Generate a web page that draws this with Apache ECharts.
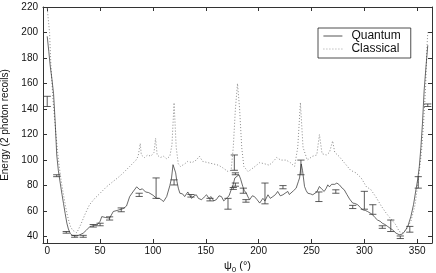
<!DOCTYPE html>
<html>
<head>
<meta charset="utf-8">
<script src="https://cdn.jsdelivr.net/npm/echarts@6/dist/echarts.min.js"></script>
<style>html,body{margin:0;padding:0;background:#fff}#c{width:436px;height:273px}</style>
</head>
<body>
<div id="c"></div>
<script>
// ---- data ----
const quantumPsi = [0,1.5,2.8,4.5,6,7.5,9,10.5,12.3,14,15.4,17,18.6,20,21.7,23.5,25,28,31,34,37,40.5,44,47,50,51.6,55,59,62.5,66,72,75,78,81,84.6,87.7,90,93,96,100,103.5,106,108,110,113,116,117.6,119,120,121.5,122.4,124,125.5,128,130,133,136.5,139,141,143,146,148.5,150.7,153,155,157.5,160,162.5,164.8,167,169.5,172,174,176,177.5,179,181.4,183,185,186.5,188.4,190,191.5,194,196,198.5,201,204,206,208.8,211,213.5,216,218,220.5,223,225,227.6,229,230.8,233,235.5,237.5,238.7,240.3,241.5,243.4,245,246.5,249,251.2,253,255,257.5,260,262,264,265.4,267,269,270,272,274,276.4,279,281,283.5,286,289,291,293.7,296,298.4,301,303,305.5,308,310,312.5,315,317,319.5,322,324.5,326.7,330,333,336,339,341.5,344,346.5,348.8,350.5,352,353.5,355,356.6,358.5,360];
const quantumE   = [197,185,174,163,152,130,104,92,82,73,66,58,50.5,46,42.7,41,40,40.5,41.5,42.7,45,48,48.5,49,52,55.7,55,54.5,59.7,60.5,62,64,71.4,75,79,76.7,77.5,75,74.5,72.5,70,70,68.9,67.5,71.4,80,86,96.4,97.5,90,84.6,78,74,73.5,71.4,75,70,72,72.8,70,68.9,71,72.8,70,71.4,68,69,72,71.4,68,70,72,76.7,81,86,87,88.5,85,79.3,76,74,71,69,72,71.4,69,66.3,70,68,72.8,70,71.4,73,75.4,72,72.8,74,75.4,73,74,76,78,83,86,97,92,79.3,76,74,73.5,72.8,71.4,75,79.3,77,75.4,78,80.6,79,81,82,81,82,80.6,78,76.7,73,69.5,66.3,66,65,63,61,60.5,59.7,58.5,57,55,53,52,50.5,49.5,48,46.5,45.3,42.7,41.5,42,45,49,55.7,65,76.7,85,95,110,129,155,175,190];

const classicalPsi = [0,2.2,3.5,5.4,7,8.5,10,11.5,13,14.5,16,17.5,19,20.5,22,24,26,28,32,36,40,45,50,56,62,68,72,78,84,86,88,89,92,95,98,101,102.5,104,107,110,113,116,118,120,122,124,126,130,133,137,141,144,147,152,157,162,166,171,174,176,178,180,182,184,186,190,195,201,206,210,214,217,221,226,230,234,237,239.5,242,246,251,255,257.5,260,264,267,270,272,276,281,287,292,297,302,306,311,316,321,326,330,333,336,340,344,348,351,354,356,358,359,360];
const classicalE   = [219,200,174,148,132,118,105,94,85,77,70,63,57,52,48,45,44,43,50,58,65,70,74,79,83,87,90,95,100,103,113,104,102,104,103,106,117,104,102,103,101,103,112,145,110,97,95,97,99,98,100,103,99,98,97,96,94,91,92,110,140,160,140,110,95,91,94,98,97,96,99,102,100,100,98,95,110,145,110,100,103,104,120,105,104,106,115,106,103,98,92,90,86,79,77,71,64,58,53,49,44,43,46,52,65,84,106,128,158,185,200,208];

const errPsi  = [0,9,18,26,34,43.5,50,59,70,87,103,120,136,154,171,177,178,178,176,185.5,188,206,223,240,257,273,289,300,308,317,325,334,343,351,360];
const errLow  = [142,87,42.7,39.5,39.5,47.5,48.5,53,59.5,71.5,70,80.5,71,68,61.5,92,88.5,79.5,77,74,67,65.7,77.5,88.5,67.5,74,62,61.5,57.5,46.5,44,38.5,43.5,78,142];
const errHigh = [150,88.5,44,41,41,49.5,50.5,55.5,62.5,74,86,84.5,73,70,70,104,90,82,78.5,78,69,82,80,100,75,76.7,64.5,75.5,65,48.5,53,40.5,48,87,144];

const xTickStep = 50;
const yTickStep = 20;

// ---- chart ----
const FONT = 'Liberation Sans, Arial, Helvetica, sans-serif';
const AX = '#333';
const pairs = (xs, ys) => xs.map((x, i) => [x, ys[i]]);
const errData = errPsi.map((x, i) => [x, errLow[i], errHigh[i]]);

const chart = echarts.init(document.getElementById('c'), null, {renderer: 'canvas'});

const baseX = {
  type: 'value', min: -4, max: 364, minInterval: xTickStep, maxInterval: xTickStep,
  axisLine: {show: true, onZero: false, lineStyle: {color: AX, width: 1}},
  axisTick: {show: true, inside: true, length: 4, lineStyle: {color: AX, width: 1}},
  splitLine: {show: false}
};
const baseY = {
  type: 'value', min: 35, max: 220, minInterval: yTickStep, maxInterval: yTickStep,
  axisLine: {show: true, onZero: false, lineStyle: {color: AX, width: 1}},
  axisTick: {show: true, inside: true, length: 4, lineStyle: {color: AX, width: 1}},
  splitLine: {show: false}
};

chart.setOption({
  animation: false,
  backgroundColor: '#fff',
  textStyle: {fontFamily: FONT},
  grid: {left: 43, right: 4, top: 7, bottom: 30, containLabel: false, outerBoundsMode: 'none'},
  legend: {
    left: 318, top: 28, orient: 'vertical',
    itemWidth: 19, itemHeight: 8, itemGap: 1,
    padding: [2, 10, 3, 5],
    borderColor: '#222', borderWidth: 0.8, backgroundColor: '#fff',
    itemStyle: {opacity: 0},
    lineStyle: {width: 0.8},
    textStyle: {fontSize: 12, lineHeight: 10, color: '#111', fontFamily: FONT, padding: [0, 0, 0, 4]},
    data: ['Quantum', 'Classical']
  },
  xAxis: [
    Object.assign({}, baseX, {
      position: 'bottom',
      name: '{a|ψ}{s|0}{a| (°)}', nameLocation: 'middle', nameGap: 12,
      nameTextStyle: {rich: {a: {fontSize: 11, color: '#111', fontFamily: FONT}, s: {fontSize: 8, color: '#111', fontFamily: FONT, verticalAlign: 'bottom', padding: [6, 0, 0, 0]}}},
      axisLabel: {show: true, margin: 3, fontSize: 10, color: '#111', fontFamily: FONT, showMinLabel: false, showMaxLabel: false,
        formatter: v => (v % xTickStep === 0 ? String(v) : '')}
    }),
    Object.assign({}, baseX, {position: 'top', axisLabel: {show: false}})
  ],
  yAxis: [
    Object.assign({}, baseY, {
      position: 'left',
      name: 'Energy (2 photon recoils)', nameLocation: 'middle', nameGap: 23,
      nameTextStyle: {fontSize: 10, color: '#111', fontFamily: FONT},
      axisLabel: {show: true, margin: 5, fontSize: 10, color: '#111', fontFamily: FONT, showMinLabel: false,
        formatter: v => (v % yTickStep === 0 ? String(v) : '')}
    }),
    Object.assign({}, baseY, {position: 'right', axisLabel: {show: false}})
  ],
  series: [
    {
      name: 'Quantum', type: 'line', xAxisIndex: 0, yAxisIndex: 0,
      data: pairs(quantumPsi, quantumE), symbol: 'none', smooth: false,
      lineStyle: {color: '#2a2a2a', width: 0.7, type: 'solid'},
      itemStyle: {color: '#2a2a2a'}, z: 3
    },
    {
      name: 'Classical', type: 'line', xAxisIndex: 0, yAxisIndex: 0,
      data: pairs(classicalPsi, classicalE), symbol: 'none', smooth: false,
      lineStyle: {color: '#8a8a8a', width: 1, type: [1, 2]},
      itemStyle: {color: '#8a8a8a'}, z: 2
    },
    {
      name: 'err', type: 'custom', xAxisIndex: 0, yAxisIndex: 0,
      data: errData, encode: {x: 0, y: [1, 2]}, clip: false, z: 4,
      renderItem: function (params, api) {
        const x = api.value(0), lo = api.value(1), hi = api.value(2);
        const a = api.coord([x, lo]), b = api.coord([x, hi]);
        const w = 3.6;
        const st = {stroke: '#333', lineWidth: 0.8};
        return {type: 'group', children: [
          {type: 'line', shape: {x1: a[0], y1: a[1], x2: b[0], y2: b[1]}, style: st},
          {type: 'line', shape: {x1: a[0] - w, y1: a[1], x2: a[0] + w, y2: a[1]}, style: st},
          {type: 'line', shape: {x1: b[0] - w, y1: b[1], x2: b[0] + w, y2: b[1]}, style: st}
        ]};
      }
    }
  ]
});
</script>
</body>
</html>
